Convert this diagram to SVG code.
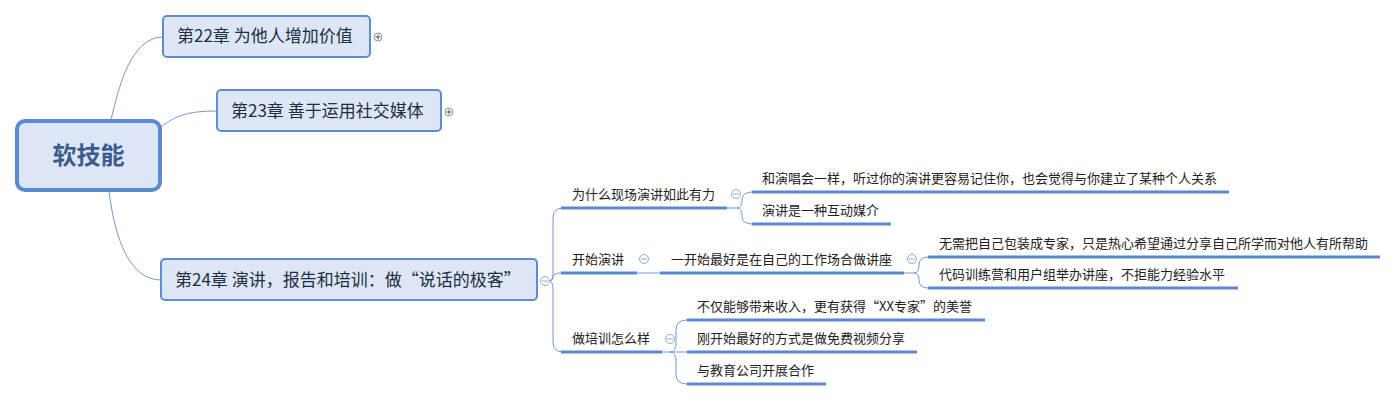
<svg xmlns="http://www.w3.org/2000/svg" width="1398" height="401" viewBox="0 0 1398 401">
<style>
.bg{fill:#ffffff}
.node{fill:#dce6f4;stroke:#5d8cd0;stroke-width:2}
.root{fill:#dce6f4;stroke:#5a8ad0;stroke-width:4}
.nt{font-family:"Microsoft YaHei","Noto Sans CJK SC",sans-serif;font-size:17px;fill:#1f2d45}
.rt{font-family:"Microsoft YaHei","Noto Sans CJK SC",sans-serif;font-size:24px;font-weight:bold;fill:#3b5b8e;text-anchor:middle}
.lt{font-family:"Microsoft YaHei","Noto Sans CJK SC",sans-serif;font-size:13px;fill:#222222}
.ul{stroke:#5a88cc;stroke-width:3;fill:none;stroke-linecap:butt}
.cn{stroke:#7398cf;stroke-width:1;fill:none}
.col{fill:#ffffff;stroke:#8eaad6;stroke-width:1}
.colm{stroke:#8eaad6;stroke-width:1}
.exp{fill:#ffffff;stroke:#777777;stroke-width:0.8}
.expm{stroke:#555555;stroke-width:1}
</style>
<rect class="bg" x="0" y="0" width="1398" height="401"/>
<g id="connectors">
<path class="cn" d="M111,120 C118,90 130,37 163,37"/>
<path class="cn" d="M160,128 C175,115 190,111 217,111"/>
<path class="cn" d="M109,191 C115,240 130,280 161,280"/>
<path class="cn" d="M549,281 Q553,281 553,273 L553,218 Q553,208 563,208"/>
<path class="cn" d="M549,281 Q553,281 553,277 Q553,273 561,273"/>
<path class="cn" d="M549,281 Q553,281 553,289 L553,342 Q553,352 563,352"/>
<path class="cn" d="M727,208 L737,208 Q742,208 742,200 Q742,192 752,192"/>
<path class="cn" d="M737,208 Q742,208 742,216 Q742,224 752,224"/>
<path class="cn" d="M637,273 L660,273"/>
<path class="cn" d="M904,273 L914,273 Q919,273 919,265 Q919,257 928,257"/>
<path class="cn" d="M914,273 Q919,273 919,280 Q919,288 928,288"/>
<path class="cn" d="M662,352 L687,352"/>
<path class="cn" d="M670,352 Q676,352 676,342 L676,330 Q676,320 687,320"/>
<path class="cn" d="M670,352 Q676,352 676,362 L676,374 Q676,384 687,384"/>
</g>
<g id="root">
<rect class="root" x="17" y="121" width="143" height="69" rx="8"/>
<text class="rt" x="88.5" y="164">软技能</text>
</g>
<g id="ch22">
<rect class="node" x="163" y="16" width="207" height="41" rx="4"/>
<text class="nt" x="177" y="42">第22章 为他人增加价值</text>
<circle class="exp" cx="378" cy="37" r="4"/>
<path class="expm" d="M375.5,37 H380.5 M378,34.5 V39.5"/>
</g>
<g id="ch23">
<rect class="node" x="217" y="90" width="224" height="41" rx="4"/>
<text class="nt" x="231" y="117">第23章 善于运用社交媒体</text>
<circle class="exp" cx="449" cy="112" r="4"/>
<path class="expm" d="M446.5,112 H451.5 M449,109.5 V114.5"/>
</g>
<g id="ch24">
<rect class="node" x="161" y="259" width="376" height="41" rx="4"/>
<text class="nt" x="175" y="286">第24章 演讲，报告和培训：做“说话的极客”</text>
<circle class="col" cx="545" cy="281" r="4.5"/>
<path class="colm" d="M542,281 H548"/>
</g>
<g id="why">
<path class="ul" d="M561,208 H727"/>
<text class="lt" x="572" y="199">为什么现场演讲如此有力</text>
<circle class="col" cx="736" cy="194" r="4.5"/>
<path class="colm" d="M733,194 H739"/>
</g>
<g id="why1">
<path class="ul" d="M752,192 H1229"/>
<text class="lt" x="762" y="183">和演唱会一样，听过你的演讲更容易记住你，也会觉得与你建立了某种个人关系</text>
</g>
<g id="why2">
<path class="ul" d="M752,224 H891"/>
<text class="lt" x="762" y="215">演讲是一种互动媒介</text>
</g>
<g id="start">
<path class="ul" d="M561,273 H637"/>
<text class="lt" x="572" y="264">开始演讲</text>
<circle class="col" cx="644" cy="259" r="4.5"/>
<path class="colm" d="M641,259 H647"/>
</g>
<g id="start1">
<path class="ul" d="M660,273 H904"/>
<text class="lt" x="671" y="264">一开始最好是在自己的工作场合做讲座</text>
<circle class="col" cx="912" cy="259" r="4.5"/>
<path class="colm" d="M909,259 H915"/>
</g>
<g id="start1a">
<path class="ul" d="M928,257 H1380"/>
<text class="lt" x="939" y="248">无需把自己包装成专家，只是热心希望通过分享自己所学而对他人有所帮助</text>
</g>
<g id="start1b">
<path class="ul" d="M928,288 H1238"/>
<text class="lt" x="939" y="279">代码训练营和用户组举办讲座，不拒能力经验水平</text>
</g>
<g id="train">
<path class="ul" d="M561,352 H662"/>
<text class="lt" x="572" y="343">做培训怎么样</text>
<circle class="col" cx="670" cy="339" r="4.5"/>
<path class="colm" d="M667,339 H673"/>
</g>
<g id="train1">
<path class="ul" d="M687,320 H985"/>
<text class="lt" x="697" y="311">不仅能够带来收入，更有获得“XX专家”的美誉</text>
</g>
<g id="train2">
<path class="ul" d="M687,352 H917"/>
<text class="lt" x="697" y="343">刚开始最好的方式是做免费视频分享</text>
</g>
<g id="train3">
<path class="ul" d="M687,384 H826"/>
<text class="lt" x="697" y="375">与教育公司开展合作</text>
</g>
</svg>
